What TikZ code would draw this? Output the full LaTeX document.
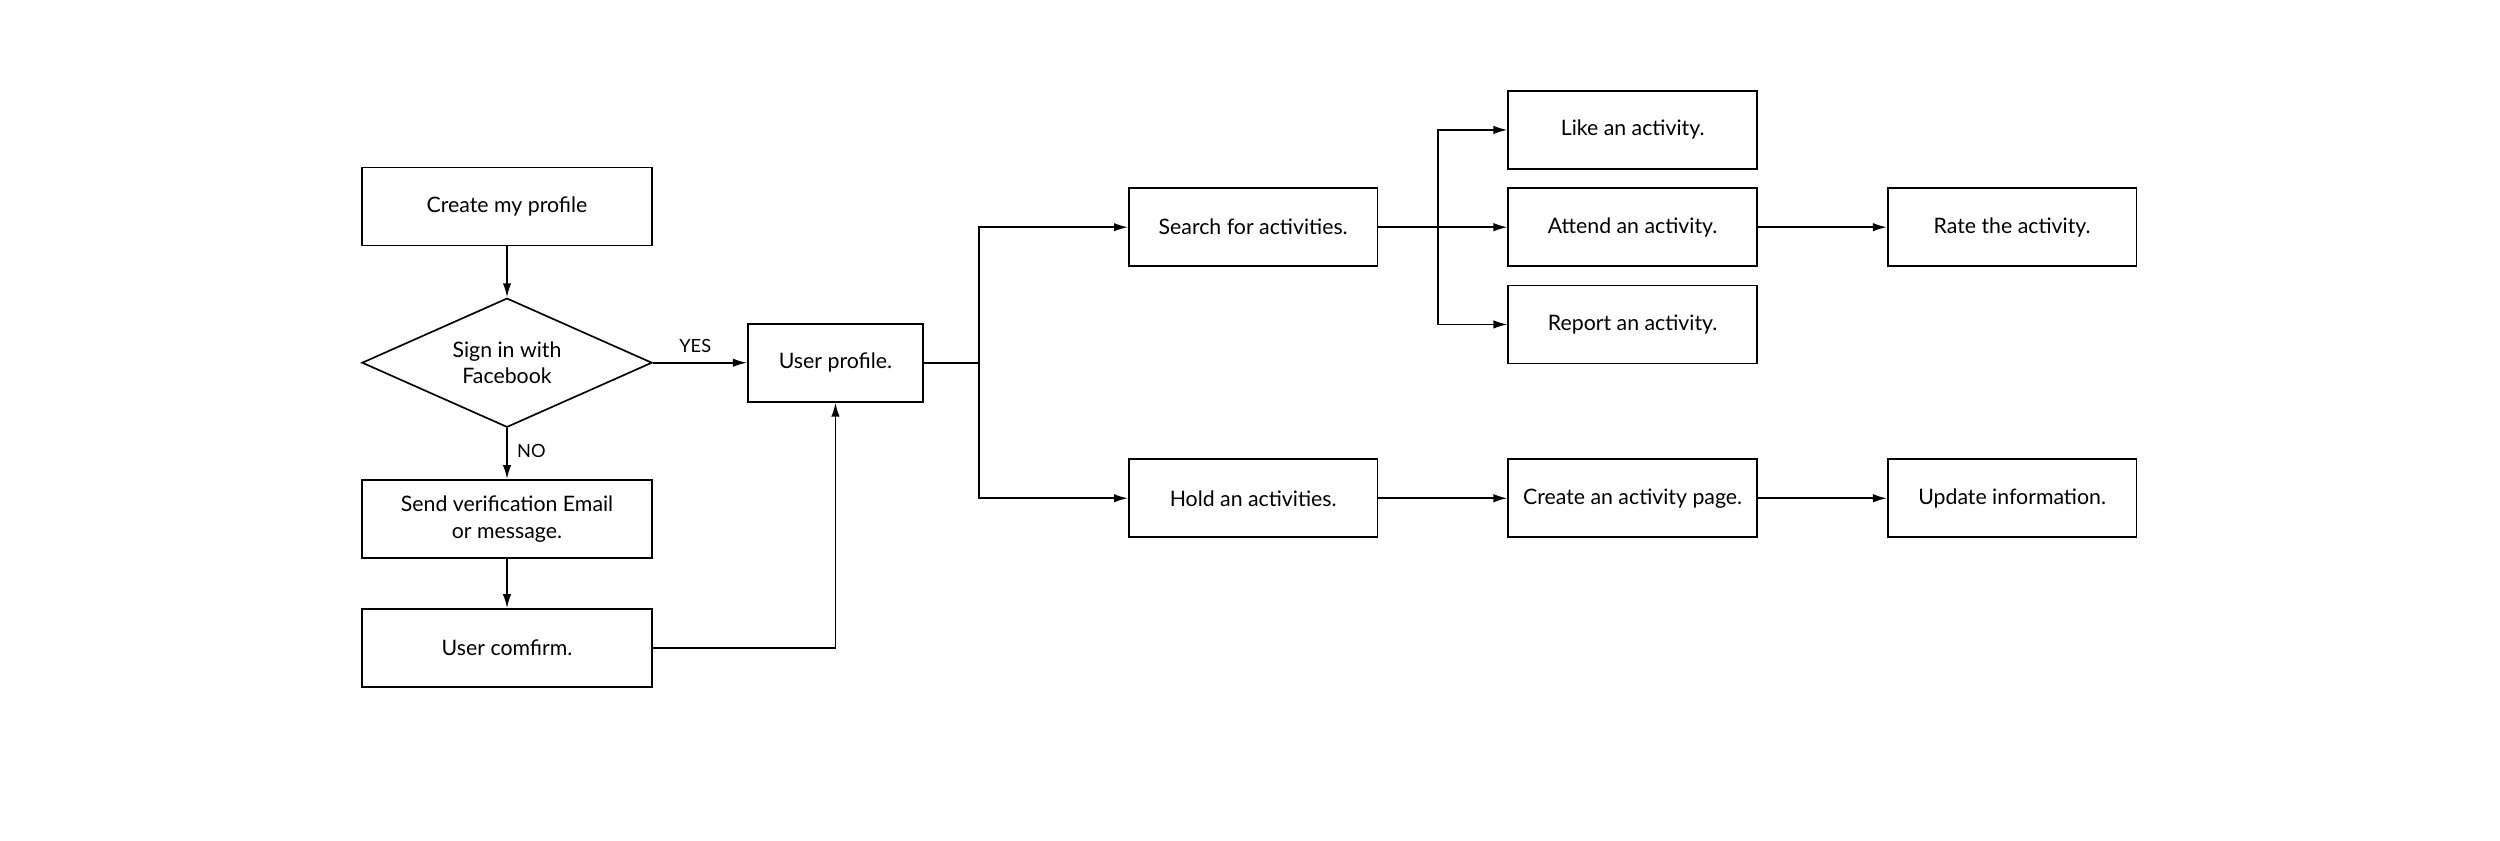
\documentclass[tikz,border=0pt]{standalone}
\usepackage{fontspec}
\setmainfont{Lato}
\usetikzlibrary{shapes.geometric,arrows.meta}
\begin{document}
\begin{tikzpicture}[x=0.02cm,y=-0.02cm,
 box/.style={draw,line width=0.6pt,minimum height=0.98cm,inner sep=1pt,align=center,font=\fontsize{7.6}{9.5}\selectfont},
 w1/.style={box,minimum width=3.64cm},
 w2/.style={box,minimum width=3.12cm},
 ar/.style={line width=0.6pt,-{Latex[length=5pt,width=3pt]}},
 ln/.style={line width=0.6pt},
 lbl/.style={font=\fontsize{6.5}{8}\selectfont}]
\useasboundingbox (0,0) rectangle (1568,527);
\node[w1] (create) at (318,129.5) {Create my profile};
\node[draw,diamond,line width=0.6pt,minimum width=3.64cm,minimum height=1.62cm,inner sep=0pt,aspect=2.25,align=center,font=\fontsize{7.6}{9.5}\selectfont] (fb) at (318,227.5) {};
\node[align=center,font=\fontsize{7.6}{9.5}\selectfont] (fbt) at (318,227.5) {Sign in with\\Facebook};
\node[w1] (send) at (318,325.5) {Send verification Email\\or message.};
\node[w1] (conf) at (318,406.5) {User comfirm.};
\node[box,minimum width=2.2cm] (up) at (524,227.5) {User profile.};
\node[w2] (search) at (786,142.5) {Search for activities.};
\node[w2] (hold) at (786,312.5) {Hold an activities.};
\node[w2] (like) at (1024,81.5) {Like an activity.};
\node[w2] (attend) at (1024,142.5) {Attend an activity.};
\node[w2] (report) at (1024,203.5) {Report an activity.};
\node[w2] (page) at (1024,312.5) {Create an activity page.};
\node[w2] (rate) at (1262,142.5) {Rate the activity.};
\node[w2] (update) at (1262,312.5) {Update information.};
\coordinate (j1) at (614,227.5);
\coordinate (j2) at (902,142.5);
\draw[ar] (create) -- (fb);
\draw[ar] (fb) -- node[lbl,right,pos=0.45]{NO} (send);
\draw[ar] (send) -- (conf);
\draw[ar] (fb) -- node[lbl,above,pos=0.45]{YES} (up);
\draw[ar] (conf.east) -| (up.south);
\draw[ln] (up.east) -- (j1);
\draw[ar] (j1) |- (search.west);
\draw[ar] (j1) |- (hold.west);
\draw[ln] (search.east) -- (j2);
\draw[ar] (j2) |- (like.west);
\draw[ar] (j2) -- (attend.west);
\draw[ar] (j2) |- (report.west);
\draw[ar] (attend) -- (rate);
\draw[ar] (hold) -- (page);
\draw[ar] (page) -- (update);
\end{tikzpicture}
\end{document}
